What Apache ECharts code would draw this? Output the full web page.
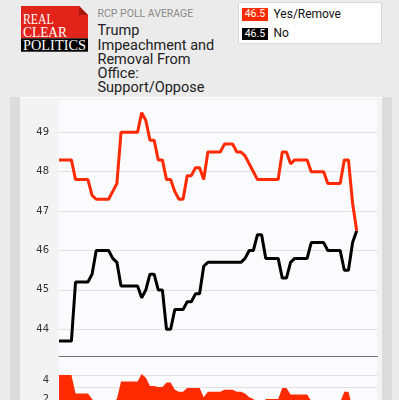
<!DOCTYPE html>
<html><head><meta charset="utf-8">
<script src="https://cdn.jsdelivr.net/npm/echarts@6/dist/echarts.min.js"></script>
<style>
html,body{margin:0;padding:0;width:399px;height:400px;overflow:hidden;background:#ebebeb;font-family:Roboto,"Noto Sans",sans-serif;}
.abs{position:absolute;}
#stripeL{left:10px;top:97px;width:10px;height:320px;background:#dcdcdc;}
#stripeR{left:382px;top:97px;width:10px;height:320px;background:#dcdcdc;}
#box{left:20px;top:97px;width:362px;height:320px;background:#f3f3f3;border-top:1px solid #fff;box-sizing:border-box;}
#plotbg{left:59px;top:100px;width:318px;height:310px;background:#fbfbfd;}
#sub{left:97.5px;top:7.7px;font-size:10.5px;line-height:12px;color:#8a8a8a;white-space:nowrap;}
#title{left:97.5px;top:24.3px;font-size:14.5px;line-height:14.2px;color:#222;width:140px;}
#legend{left:238px;top:2px;width:144px;height:42px;background:#fff;border:1px solid #d9d9d9;box-sizing:border-box;}
.badge{width:26.5px;height:12.5px;color:#fff;font-size:10.5px;line-height:12.5px;text-align:center;}
.ltxt{font-size:12px;line-height:14px;color:#111;white-space:nowrap;}
#chart{left:0;top:0;width:399px;height:440px;}
</style></head>
<body>
<div id="stripeL" class="abs"></div>
<div id="stripeR" class="abs"></div>
<div id="box" class="abs"></div>
<div id="plotbg" class="abs"></div>
<svg class="abs" style="left:20.7px;top:6px" width="67" height="46">
  <polygon points="0,0 58,0 67,9 67,32.3 0,32.3" fill="#e2231a"/>
  <polygon points="58,0 58,9 67,9" fill="#a8170f"/>
  <rect x="0" y="32.3" width="67" height="13.4" fill="#000"/>
  <text x="2" y="18.3" font-family="Liberation Serif" font-size="15.6" fill="#fff" textLength="30.6" lengthAdjust="spacingAndGlyphs">REAL</text>
  <text x="2" y="30.7" font-family="Liberation Serif" font-size="15.6" fill="#fff" textLength="44" lengthAdjust="spacingAndGlyphs">CLEAR</text>
  <text x="2" y="44" font-family="Liberation Serif" font-size="15.6" fill="#fff" textLength="63" lengthAdjust="spacingAndGlyphs">POLITICS</text>
</svg>
<div id="sub" class="abs">RCP POLL AVERAGE</div>
<div id="title" class="abs">Trump<br>Impeachment and<br>Removal From<br>Office:<br>Support/Oppose</div>
<div id="legend" class="abs"></div>
<div id="b1" class="abs badge" style="left:241.7px;top:8.3px;background:#ff2a00;"></div>
<div id="l1" class="abs ltxt" style="left:273.5px;top:7.2px;">Yes/Remove</div>
<div id="b2" class="abs badge" style="left:241.7px;top:27.5px;background:#000;"></div>
<div id="l2" class="abs ltxt" style="left:273.5px;top:26.2px;">No</div>
<div id="chart" class="abs"></div>
<script>
// values (one point per poll date)
const yesRemove = [48.3,48.3,48.3,48.3,47.8,47.8,47.8,47.8,47.4,47.3,47.3,47.3,47.3,47.5,47.7,49.0,49.0,49.0,49.0,49.0,
  49.5,49.3,48.8,48.8,48.3,48.3,47.8,47.8,47.5,47.3,47.3,47.9,47.9,48.1,48.1,47.8,48.5,48.5,48.5,48.5,
  48.7,48.7,48.7,48.5,48.5,48.4,48.2,48.0,47.8,47.8,47.8,47.8,47.8,47.8,48.5,48.5,48.2,48.3,48.3,48.3,
  48.3,48.0,48.0,48.0,48.0,47.7,47.7,47.7,47.7,48.3,48.3,47.2,46.5];
const no = [43.7,43.7,43.7,43.7,45.2,45.2,45.2,45.2,45.4,46.0,46.0,46.0,46.0,45.8,45.7,45.1,45.1,45.1,45.1,45.1,
  44.8,45.0,45.4,45.4,45.0,45.0,44.0,44.0,44.5,44.5,44.5,44.7,44.7,44.9,44.9,45.6,45.7,45.7,45.7,45.7,
  45.7,45.7,45.7,45.7,45.7,45.8,46.0,46.0,46.4,46.4,45.8,45.8,45.8,45.8,45.3,45.3,45.7,45.8,45.8,45.8,
  45.8,46.2,46.2,46.2,46.2,46.0,46.0,46.0,46.0,45.5,45.5,46.2,46.5];
const spread = [4.6,4.6,4.6,4.6,2.6,2.6,2.6,2.6,2.0,1.3,1.3,1.3,1.3,1.7,2.0,3.9,3.9,3.9,3.9,3.9,
  4.7,4.3,3.4,3.4,3.3,3.3,3.8,3.8,3.0,2.8,2.8,3.2,3.2,3.2,3.2,2.2,2.8,2.8,2.8,2.8,
  3.0,3.0,3.0,2.8,2.8,2.6,2.2,2.0,1.4,1.4,2.0,2.0,2.0,2.0,3.2,3.2,2.5,2.5,2.5,2.5,
  2.5,1.8,1.8,1.8,1.8,1.7,1.7,1.7,1.7,2.8,2.8,1.0,0.0];
const mainTicks = [44,45,46,47,48,49];
const spreadTicks = [2,4];
const spreadGuides = [4.62,3.27];
const dayCount = 78; // axis runs past the last poll date
const days = Array.from({length: dayCount}, (_, i) => String(i));

document.getElementById('b1').textContent = yesRemove[yesRemove.length-1].toFixed(1);
document.getElementById('b2').textContent = no[no.length-1].toFixed(1);

const RED = '#ff2a00';
const chart = echarts.init(document.getElementById('chart'), null, {renderer:'canvas'});
const labelStyle = {color:'#333', fontFamily:'DejaVu Sans', fontSize:10, margin:10};
chart.setOption({
  animation:false,
  grid:[
    {left:59, right:21.6, top:132.3, bottom:110.7},
    {left:59, right:21.6, top:373.1, bottom:22.3}
  ],
  xAxis:[
    {type:'category', gridIndex:0, data:days, boundaryGap:false, offset:27,
     axisLine:{show:true, lineStyle:{color:'#737373', width:1}}, axisTick:{show:false}, axisLabel:{show:false}, splitLine:{show:false}},
    {type:'category', gridIndex:1, data:days, boundaryGap:false, show:false}
  ],
  yAxis:[
    {type:'value', gridIndex:0, min:mainTicks[0], max:mainTicks[mainTicks.length-1], interval:1,
     axisLine:{show:false}, axisTick:{show:false}, axisLabel:labelStyle,
     splitLine:{lineStyle:{color:'#e1e1e1', width:1}}},
    {type:'value', gridIndex:1, min:0, max:4.8, interval:2,
     axisLine:{show:false}, axisTick:{show:false}, splitLine:{show:false},
     axisLabel:Object.assign({}, labelStyle, {showMaxLabel:false, formatter:v => spreadTicks.includes(v) ? String(v) : ''})}
  ],
  series:[
    {type:'line', name:'No', xAxisIndex:0, yAxisIndex:0, data:no, showSymbol:false, clip:false,
     lineStyle:{color:'#000', width:3}, itemStyle:{color:'#000'}, z:3},
    {type:'line', name:'Yes/Remove', xAxisIndex:0, yAxisIndex:0, data:yesRemove, showSymbol:false, clip:false,
     lineStyle:{color:RED, width:3}, itemStyle:{color:RED}, z:4},
    {type:'line', name:'Spread', xAxisIndex:1, yAxisIndex:1, data:spread, showSymbol:false,
     lineStyle:{width:0}, itemStyle:{color:RED}, areaStyle:{color:RED, opacity:1, origin:'start'}, z:3,
     markLine:{silent:true, symbol:'none', z:1, label:{show:false},
       lineStyle:{color:'#e1e1e1', width:1, type:'solid'},
       data:spreadGuides.map(v => ({yAxis:v}))}}
  ]
});
</script>
</body></html>
